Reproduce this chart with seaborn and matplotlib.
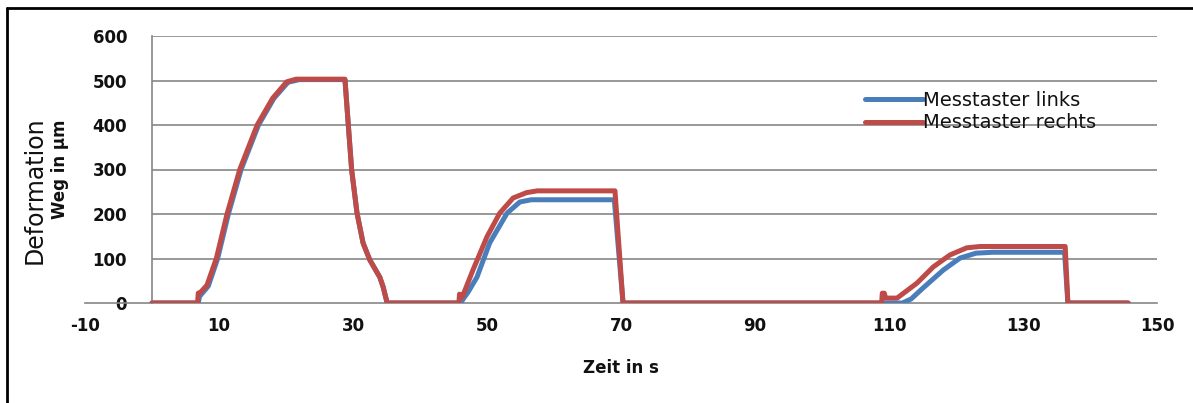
import numpy as np
import pandas as pd
import seaborn as sns
import matplotlib.pyplot as plt
from matplotlib.lines import Line2D

links_t = [0, 6.9, 7.1, 7.5, 8.4, 9.8, 11.4, 13.3, 15.9, 18.2, 20.3, 22.0, 28.8,
           29.3, 29.8, 30.6, 31.5, 32.5, 34.0, 34.5, 35.1,
           46.1, 46.4, 47.2, 48.5, 50.4, 53.0, 54.9, 56.6, 69.0, 70.3,
           112.0, 113.3, 115.1, 118.1, 120.6, 123.0, 125.5, 136.2, 136.7, 145.7]
links_v = [0, 0, 15, 22, 38, 100, 200, 300, 400, 460, 496, 502, 502,
           400, 299, 202, 135, 97, 58, 36, 0,
           0, 8, 25, 58, 135, 202, 227, 232, 232, 0,
           0, 9, 34, 74, 101, 112, 114, 114, 0, 0]

rechts_t = [0, 6.8, 6.9, 7.3, 8.2, 9.6, 11.2, 13.1, 15.7, 18.0, 20.1, 21.5, 28.8,
            29.3, 29.8, 30.6, 31.5, 32.5, 34.0, 34.5, 35.1,
            45.8, 45.9, 46.3, 47.9, 50.0, 51.9, 53.9, 55.9, 57.5, 69.1, 70.3,
            108.9, 109.0, 109.3, 109.5, 111.2, 114.2, 116.6, 119.1, 121.6, 123.6,
            136.3, 136.7, 145.7]
rechts_v = [0, 0, 22, 25, 40, 100, 200, 300, 400, 460, 497, 503, 503,
            400, 299, 202, 135, 97, 58, 36, 0,
            0, 20, 13, 74, 149, 202, 236, 248, 252, 252, 0,
            0, 22, 22, 11, 11, 45, 81, 108, 124, 127,
            127, 0, 0]

serien = ["Messtaster links", "Messtaster rechts"]
farben = ["#4a7ebb", "#be4b48"]
y_ticks = [0, 100, 200, 300, 400, 500, 600]
x_ticks = [-10, 10, 30, 50, 70, 90, 110, 130, 150]

df = pd.concat([
    pd.DataFrame({"t": links_t, "weg": links_v, "serie": serien[0]}),
    pd.DataFrame({"t": rechts_t, "weg": rechts_v, "serie": serien[1]}),
])

sns.set_style("white")
plt.rcParams["font.family"] = ["DejaVu Sans"]
plt.rcParams["axes.unicode_minus"] = False

fig = plt.figure(figsize=(11.93, 4.03), dpi=100)
ax = fig.add_axes([85 / 1193, 100 / 403, 1072 / 1193, 267 / 403])

grau = "#868686"
ax.hlines(y_ticks[1:], 0, 150, color=grau, lw=1.2, zorder=1)

sns.lineplot(data=df, x="t", y="weg", hue="serie", hue_order=serien,
             palette=farben, estimator=None, lw=3.6, ax=ax, zorder=3)

ax.set_xlim(-10, 150)
ax.set_ylim(0, 600)
ax.set_xticks(x_ticks)
ax.set_yticks(y_ticks)

for s in ["top", "right"]:
    ax.spines[s].set_visible(False)
ax.spines["left"].set_position(("data", 0))
for s in ["left", "bottom"]:
    ax.spines[s].set_color(grau)
    ax.spines[s].set_linewidth(1.2)

ax.tick_params(axis="y", direction="out", length=17, width=1.2, color=grau, pad=1,
               labelsize=12, labelcolor="#111111")
ax.tick_params(axis="x", direction="out", length=4, width=1.2, color=grau, pad=6,
               labelsize=12, labelcolor="#111111")
for lab in ax.get_xticklabels() + ax.get_yticklabels():
    lab.set_fontweight("bold")

ax.set_xlabel("Zeit in s", fontsize=12, fontweight="bold", color="#111111")
ax.xaxis.set_label_coords(0.5, -0.21)
ax.set_ylabel("Weg in µm", fontsize=12, fontweight="bold", color="#111111")
ax.yaxis.set_label_coords(-0.023, 0.5)
ax.yaxis.label.set_va("center")

fig.text(35 / 1193, 1 - 190 / 403, "Deformation", rotation=90, fontsize=17,
         ha="center", va="center", color="#111111")

handles, labels = ax.get_legend_handles_labels()
ax.legend(handles, labels, frameon=False, fontsize=14, loc="upper left",
          bbox_to_anchor=(0.72, 0.825), handlelength=3.0, handletextpad=0.0,
          labelspacing=0.2, borderaxespad=0, labelcolor="#111111")

# Rahmen oben und links
fig.add_artist(Line2D([7 / 1193, 7 / 1193], [0, 1 - 8 / 403], color="black", lw=2))
fig.add_artist(Line2D([7 / 1193, 1], [1 - 8 / 403, 1 - 8 / 403], color="black", lw=2))

fig.savefig("out.png", dpi=100)
